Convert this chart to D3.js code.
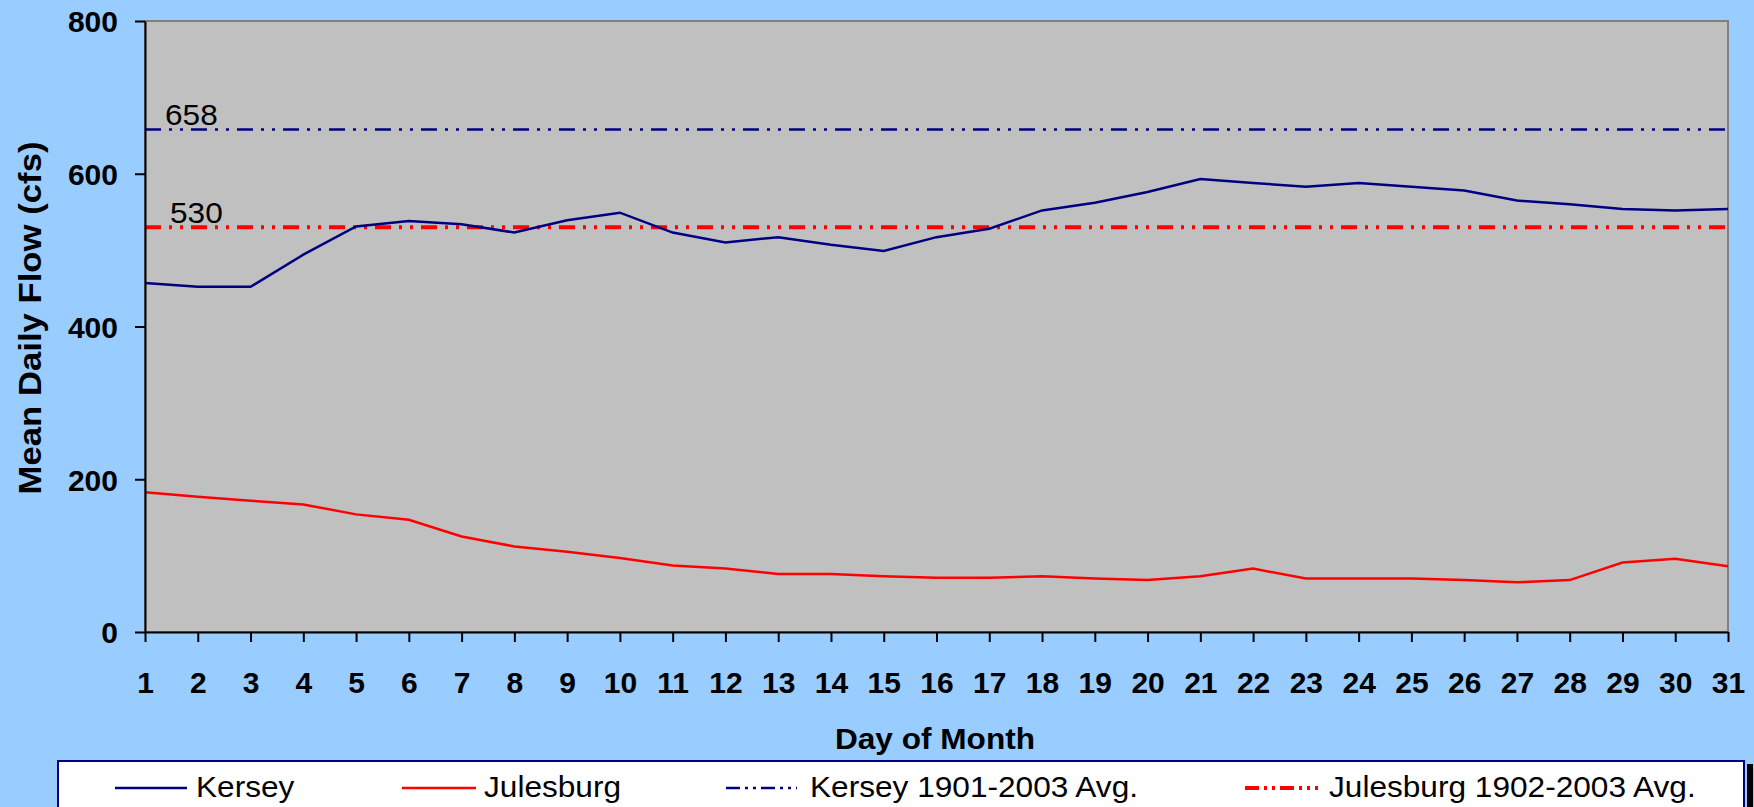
<!DOCTYPE html>
<html lang="en">
<head>
    <meta charset="UTF-8">
    <title>Mean Daily Flow</title>
    <style>
        body { margin: 0; background: #99ccff; }
        svg { display: block; font-family: "Liberation Sans", Arial, sans-serif; }
        .axis path, .axis line { stroke: #000; stroke-width: 2px; }
        .axis text { font-weight: bold; font-size: 30px; fill: #000; }
    </style>
    <script src="https://d3js.org/d3.v7.min.js"></script>
</head>
<body>
    <svg width="1754" height="807"></svg>
    <script>
        const days = d3.range(1, 32);
        const kersey = [457, 452, 452, 494, 531, 538, 534, 523, 539, 549, 523, 510, 517, 507, 499, 517,
                        528, 552, 562, 576, 593, 588, 583, 588, 583, 578, 565, 560, 554, 552, 554];
        const julesburg = [183, 177, 172, 167, 154, 147, 125, 112, 105, 97, 87, 83, 76, 76, 73, 71,
                           71, 73, 70, 68, 73, 83, 70, 70, 70, 68, 65, 68, 91, 96, 86];
        const kerseyAvg = 658;
        const julesburgAvg = 530;
        const yTicks = [0, 200, 400, 600, 800];

        const width = 1754;
        const height = 807;
        const margin = { left: 145, right: 26, top: 21, bottom: 175 };
        const stretch = 1.09; // text in the original is a little wide

        const svg = d3.select("svg");

        const x = d3.scaleLinear().domain([1, 31]).range([margin.left, width - margin.right]);
        const y = d3.scaleLinear().domain([0, 800]).range([height - margin.bottom, margin.top]);

        const dashAvg = "16,8,3,8,3,8";

        // plot area
        svg.append("rect")
            .attr("x", x(1)).attr("y", y(800))
            .attr("width", x(31) - x(1)).attr("height", y(0) - y(800))
            .attr("fill", "#c0c0c0")
            .attr("stroke", "#808080")
            .attr("stroke-width", 2);

        // average lines
        const avgs = [
            { value: kerseyAvg, color: "#000080", w: 2.5, lx: 165 },
            { value: julesburgAvg, color: "#ff0000", w: 4, lx: 170 }
        ];
        svg.append("g").selectAll("line")
            .data(avgs)
            .enter().append("line")
            .attr("x1", x(1)).attr("x2", x(31))
            .attr("y1", d => y(d.value)).attr("y2", d => y(d.value))
            .attr("stroke", d => d.color)
            .attr("stroke-width", d => d.w)
            .attr("stroke-dasharray", dashAvg);

        svg.append("g").selectAll("text")
            .data(avgs)
            .enter().append("text")
            .attr("transform", d => `translate(${d.lx},${y(d.value) - 4}) scale(${stretch},1)`)
            .attr("font-size", 29)
            .attr("fill", "#000")
            .text(d => d.value);

        // series lines
        const line = d3.line().x((d, i) => x(days[i])).y(d => y(d));
        const series = [
            { name: "Kersey", values: kersey, color: "#000080" },
            { name: "Julesburg", values: julesburg, color: "#ff0000" }
        ];
        svg.append("g").selectAll("path")
            .data(series)
            .enter().append("path")
            .attr("d", d => line(d.values))
            .attr("fill", "none")
            .attr("stroke", d => d.color)
            .attr("stroke-width", 2.5);

        // axes
        const yAxis = svg.append("g")
            .attr("class", "axis")
            .attr("transform", `translate(${x(1)},0)`)
            .call(d3.axisLeft(y).tickValues(yTicks).tickSize(10).tickPadding(17).tickSizeOuter(0));
        yAxis.selectAll("text").attr("dy", "0.36em");

        svg.append("g")
            .attr("class", "axis")
            .attr("transform", `translate(0,${y(0)})`)
            .call(d3.axisBottom(x).tickValues(days).tickFormat(d3.format("d")).tickSize(10).tickPadding(30).tickSizeOuter(0));

        // axis titles
        svg.append("text")
            .attr("transform", `translate(41,318) rotate(-90) scale(1.12,1)`)
            .attr("text-anchor", "middle")
            .attr("font-size", 31)
            .attr("font-weight", "bold")
            .text("Mean Daily Flow (cfs)");

        svg.append("text")
            .attr("transform", `translate(935,749) scale(${stretch},1)`)
            .attr("text-anchor", "middle")
            .attr("font-size", 29)
            .attr("font-weight", "bold")
            .text("Day of Month");

        // legend
        svg.append("rect")
            .attr("x", 1747).attr("y", 764)
            .attr("width", 6).attr("height", 60)
            .attr("fill", "#000");
        svg.append("rect")
            .attr("x", 58).attr("y", 761)
            .attr("width", 1686).attr("height", 60)
            .attr("fill", "#fff")
            .attr("stroke", "#000080")
            .attr("stroke-width", 2);

        const legendItems = [
            { label: "Kersey", color: "#000080", w: 2.5, dash: null, x1: 115, x2: 187, tx: 196 },
            { label: "Julesburg", color: "#ff0000", w: 2.5, dash: null, x1: 402, x2: 476, tx: 484 },
            { label: "Kersey 1901-2003 Avg.", color: "#000080", w: 2.5, dash: "14,5,3,5,3,5", x1: 726, x2: 797, tx: 810 },
            { label: "Julesburg 1902-2003 Avg.", color: "#ff0000", w: 4, dash: "14,5,3,5,3,5", x1: 1245, x2: 1318, tx: 1329 }
        ];
        const lg = svg.append("g").selectAll("g")
            .data(legendItems)
            .enter().append("g");
        lg.append("line")
            .attr("x1", d => d.x1).attr("x2", d => d.x2)
            .attr("y1", 788).attr("y2", 788)
            .attr("stroke", d => d.color)
            .attr("stroke-width", d => d.w)
            .attr("stroke-dasharray", d => d.dash);
        lg.append("text")
            .attr("transform", d => `translate(${d.tx},797) scale(${stretch},1)`)
            .attr("font-size", 29)
            .attr("fill", "#000")
            .text(d => d.label);
    </script>
</body>
</html>
